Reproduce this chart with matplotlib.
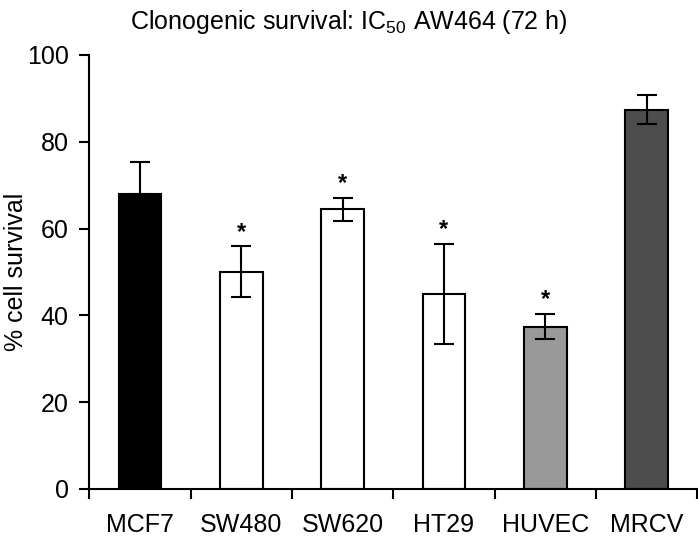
import matplotlib
matplotlib.use('Agg')
import matplotlib.pyplot as plt
import numpy as np

plt.rcParams.update({'font.size': 18, 'font.family': 'Liberation Sans',
                     'mathtext.default': 'regular'})

labels = ['MCF7', 'SW480', 'SW620', 'HT29', 'HUVEC', 'MRCV']
survival = [67.9, 50.1, 64.4, 44.9, 37.4, 87.4]
err = [7.4, 5.8, 2.7, 11.5, 2.9, 3.3]
lower_err = [0, 5.8, 2.7, 11.5, 2.9, 3.3]
signif = [False, True, True, True, True, False]
colors = ['#000000', '#ffffff', '#ffffff', '#ffffff', '#999999', '#4d4d4d']

x = np.arange(len(labels))

fig = plt.figure(figsize=(6.98, 5.37), dpi=100)
ax = fig.add_axes([0.128, 0.0894, 0.871, 0.8082])

ax.bar(x, survival, 0.42, color=colors, edgecolor='black', linewidth=1.5, zorder=2)
ax.errorbar(x, survival, yerr=[lower_err, err], fmt='none', ecolor='black',
            elinewidth=1.5, capsize=7.5, capthick=1.5, zorder=3)

for xi, v, e, s in zip(x, survival, err, signif):
    if s:
        ax.annotate('*', (xi, v + e), xytext=(0, 2), textcoords='offset points',
                    ha='center', va='bottom', fontsize=17, fontweight='bold')

ax.set_xlim(-0.5, 5.5)
ax.set_ylim(0, 100)
ax.set_yticks([0, 20, 40, 60, 80, 100])
ax.set_xticks(np.arange(-0.5, 6, 1))
ax.set_xticklabels([])
ax.set_xticks(x, minor=True)
ax.set_xticklabels(labels, minor=True)
ax.tick_params(axis='x', which='minor', length=0, pad=17)
ax.tick_params(axis='both', which='major', length=7, width=1.5, direction='out')
ax.tick_params(axis='y', pad=8)
ax.set_ylabel('% cell survival', labelpad=-1)
fig.text(0.5, 0.985, 'Clonogenic survival: IC$_{50}$ AW464 (72 h)',
         ha='center', va='top', fontsize=18)

for sp in ['top', 'right']:
    ax.spines[sp].set_visible(False)
for sp in ['left', 'bottom']:
    ax.spines[sp].set_linewidth(1.5)

plt.savefig('out.png', dpi=100)
